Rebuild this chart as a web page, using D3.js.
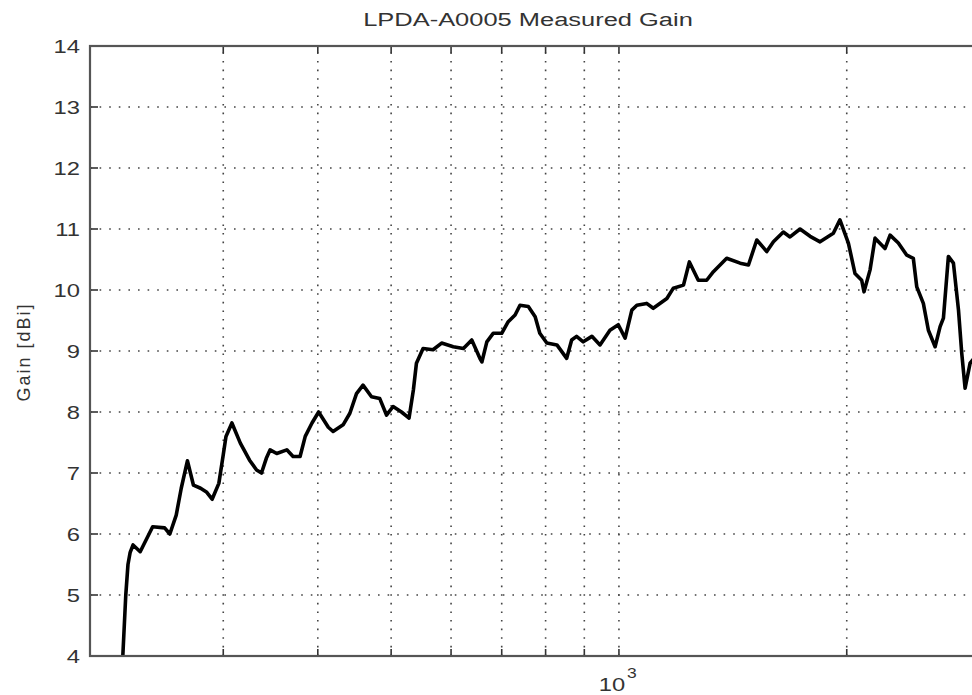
<!DOCTYPE html>
<meta charset="utf-8">
<style>
  body { margin: 0; background: #fff; }
  svg { display: block; overflow: hidden; }
  text { font-family: "Liberation Sans", Arial, sans-serif; fill: #333; }
</style>
<script src="https://d3js.org/d3.v7.min.js"></script>
<div id="chart"></div>
<script>

// measured gain (frequency in MHz, gain in dBi)
var freq = [221, 223, 224.5, 226, 228, 233, 242, 251, 255, 260,
  264, 269, 274, 280, 285, 290, 296, 300, 302.5, 308,
  316, 325, 332, 337, 342, 346, 353, 364, 371, 379,
  385, 393, 401, 413, 419, 432, 441, 450, 459, 471,
  483, 493, 503, 516, 528, 535, 540, 551, 568, 583,
  604, 623, 639, 655, 659, 669, 682, 700, 714, 729,
  740, 759, 775, 786, 803, 828, 853, 866, 879, 897,
  921, 944, 973, 998, 1019, 1040, 1056, 1088, 1110, 1157,
  1180, 1217, 1239, 1273, 1306, 1333, 1388, 1446, 1483, 1521,
  1568, 1600, 1649, 1683, 1735, 1789, 1844, 1920, 1959, 2010,
  2051, 2093, 2108, 2147, 2180, 2247, 2282, 2340, 2401, 2449,
  2475, 2525, 2564, 2617, 2657, 2684, 2725, 2767, 2810, 2838,
  2867, 2911, 2955];
var gain = [4.0, 5.0, 5.5, 5.7, 5.82, 5.71, 6.12, 6.1, 6.0, 6.31,
  6.75, 7.2, 6.8, 6.75, 6.69, 6.57, 6.83, 7.3, 7.6, 7.82,
  7.49, 7.21, 7.05, 7.0, 7.24, 7.38, 7.32, 7.38, 7.27, 7.27,
  7.6, 7.82, 8.0, 7.75, 7.68, 7.79, 7.98, 8.3, 8.44, 8.25,
  8.22, 7.95, 8.09, 8.0, 7.9, 8.36, 8.8, 9.04, 9.02, 9.13,
  9.07, 9.04, 9.18, 8.88, 8.82, 9.15, 9.29, 9.29, 9.48, 9.59,
  9.75, 9.73, 9.56, 9.29, 9.13, 9.1, 8.88, 9.18, 9.24, 9.15,
  9.24, 9.1, 9.34, 9.43, 9.21, 9.67, 9.75, 9.78, 9.7, 9.86,
  10.03, 10.08, 10.46, 10.16, 10.16, 10.3, 10.52, 10.44, 10.41, 10.82,
  10.63, 10.79, 10.95, 10.87, 11.0, 10.88, 10.79, 10.93, 11.15, 10.77,
  10.27, 10.16, 9.97, 10.33, 10.85, 10.68, 10.9, 10.77, 10.57, 10.52,
  10.05, 9.78, 9.34, 9.07, 9.4, 9.54, 10.55, 10.44, 9.67, 8.96,
  8.39, 8.8, 8.9];

// axis ticks
var xDomain = [200, 3000];
var xGrid = [300, 400, 500, 600, 700, 800, 900, 1000, 2000];
var yTicks = [4, 5, 6, 7, 8, 9, 10, 11, 12, 13, 14];

var W = 972, H = 695;
var margin = {top: 46, right: -8, bottom: 39, left: 90};
var width = W - margin.left - margin.right,   // plot runs a little past the right edge
    height = H - margin.top - margin.bottom;

var svg = d3.select("#chart").append("svg")
    .attr("width", W)
    .attr("height", H);

var x = d3.scaleLog().domain(xDomain).range([margin.left, margin.left + width]);
var y = d3.scaleLinear().domain([4, 14]).range([margin.top + height, margin.top]);

var x0 = x.range()[0], x1 = x.range()[1], y0 = y.range()[0], y1 = y.range()[1];

// grid (dotted, MATLAB style)
svg.append("g").selectAll("line")
  .data(yTicks.slice(1, -1))
  .enter().append("line")
    .attr("x1", x0).attr("x2", x1)
    .attr("y1", function(d) { return y(d); })
    .attr("y2", function(d) { return y(d); })
    .attr("stroke", "#444")
    .attr("stroke-width", 1.6)
    .style("stroke-dasharray", "1.6,8");

svg.append("g").selectAll("line")
  .data(xGrid)
  .enter().append("line")
    .attr("x1", function(d) { return x(d); })
    .attr("x2", function(d) { return x(d); })
    .attr("y1", y0).attr("y2", y1)
    .attr("stroke", "#444")
    .attr("stroke-width", 1.6)
    .style("stroke-dasharray", "1.6,7");

// ticks, pointing inward on all four sides
var tk = svg.append("g").attr("stroke", "#333").attr("stroke-width", 1.6);
yTicks.forEach(function(v) {
  tk.append("line").attr("x1", x0).attr("x2", x0 + 8).attr("y1", y(v)).attr("y2", y(v));
  tk.append("line").attr("x1", x1).attr("x2", x1 - 8).attr("y1", y(v)).attr("y2", y(v));
});
xGrid.forEach(function(v) {
  tk.append("line").attr("x1", x(v)).attr("x2", x(v)).attr("y1", y0).attr("y2", y0 - 7);
  tk.append("line").attr("x1", x(v)).attr("x2", x(v)).attr("y1", y1).attr("y2", y1 + 7);
});

// the gain curve
svg.append("clipPath").attr("id", "clip")
  .append("rect").attr("x", x0).attr("y", y1).attr("width", x1 - x0).attr("height", y0 - y1);

var line = d3.line()
  .x(function(d, i) { return x(freq[i]); })
  .y(function(d) { return y(d); });

svg.append("path")
  .datum(gain)
  .attr("clip-path", "url(#clip)")
  .attr("fill", "none")
  .attr("stroke", "#000")
  .attr("stroke-width", 3.6)
  .attr("stroke-linejoin", "round")
  .attr("d", line);

// axes box
svg.append("rect")
  .attr("x", x0).attr("y", y1)
  .attr("width", x1 - x0).attr("height", y0 - y1)
  .attr("fill", "none")
  .attr("stroke", "#555")
  .attr("stroke-width", 2.2);

// y tick labels
svg.append("g").selectAll("text")
  .data(yTicks)
  .enter().append("text")
    .attr("transform", function(d) { return "translate(80," + y(d) + ") scale(1.25,1)"; })
    .attr("dy", "0.36em")
    .attr("text-anchor", "end")
    .style("font-size", "19px")
    .text(function(d) { return d; });

// x tick label: 10^3
var xl = svg.append("g")
  .attr("transform", "translate(" + x(1000) + ",0) scale(1.25,1)");
xl.append("text").attr("x", -5.5).attr("y", 691)
  .attr("text-anchor", "middle").style("font-size", "19px").text("10");
xl.append("text").attr("x", 6.5).attr("y", 678)
  .attr("text-anchor", "start").style("font-size", "14px").text("3");

// title
svg.append("text")
  .attr("transform", "translate(528,26) scale(1.34,1)")
  .attr("text-anchor", "middle")
  .style("font-size", "19px")
  .text("LPDA-A0005 Measured Gain");

// y label
svg.append("text")
  .attr("transform", "translate(29.5,352) rotate(-90)")
  .attr("text-anchor", "middle")
  .style("font-size", "18px")
  .style("letter-spacing", "2px")
  .text("Gain [dBi]");

</script>
